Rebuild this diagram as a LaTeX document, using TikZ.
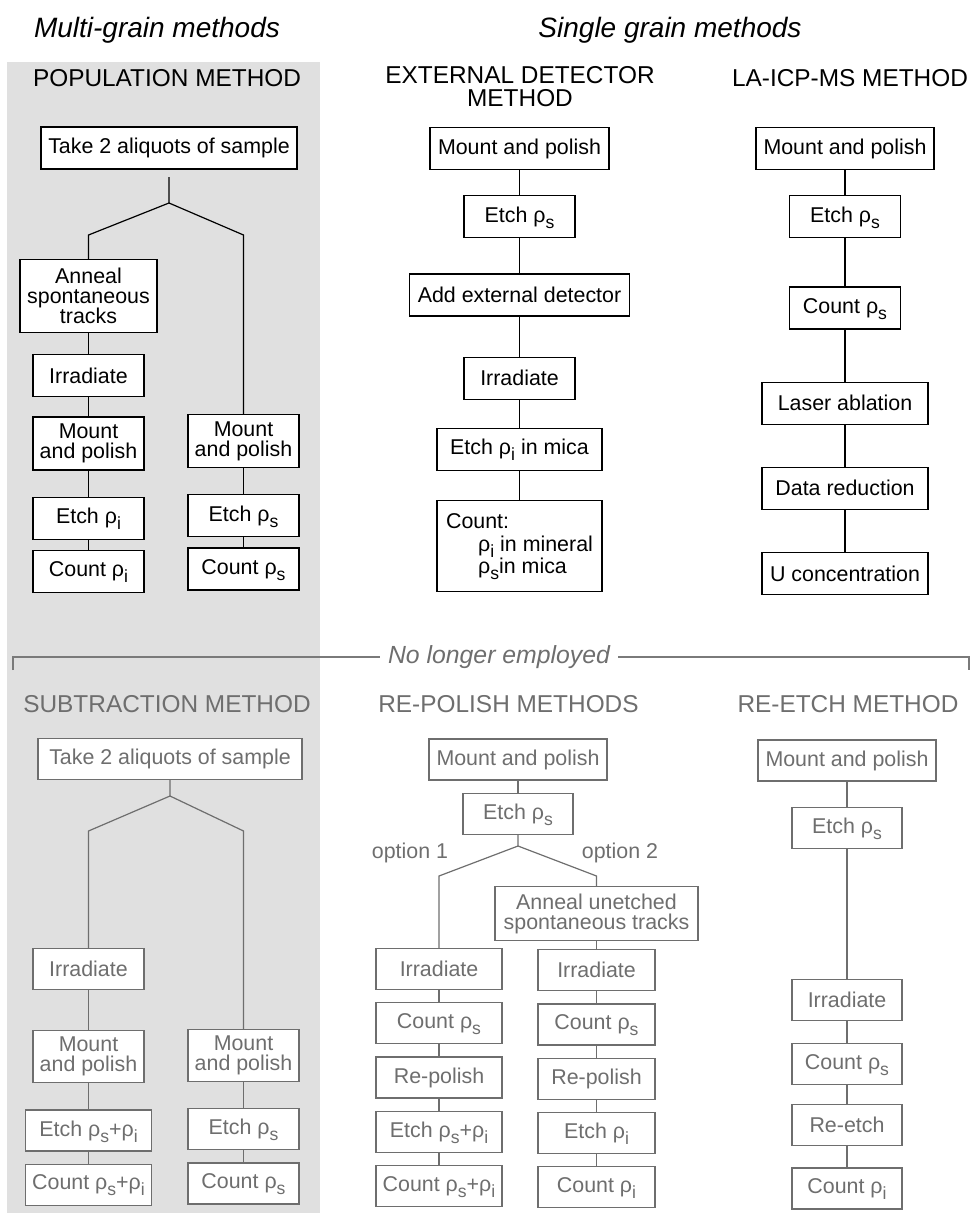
\documentclass[tikz,border=0pt]{standalone}
\usepackage{fontspec}
\setmainfont{Liberation Sans}
\usepackage{tikz}
\usetikzlibrary{positioning}
\definecolor{fondo}{HTML}{E0E0E0}
\definecolor{gris}{HTML}{6E6E6E}
\definecolor{lineagris}{HTML}{7A7A7A}
\newcommand{\rsub}[1]{ρ\raisebox{-3pt}[0pt][0pt]{\fontsize{8.8}{9}\selectfont #1}}

\begin{document}
\begin{tikzpicture}[x=0.5pt,y=-0.5pt,
			proc/.style={draw,line width=0.6pt,fill=white,align=center,font=\fontsize{10.7}{10}\selectfont,minimum height=21pt,inner sep=2pt},
			oldproc/.style={proc,draw=gris,text=gris,minimum height=20.5pt},
			head/.style={font=\fontsize{12.2}{11.5}\selectfont,align=center},
			oldhead/.style={head,text=gris},
			grp/.style={font=\fontsize{14}{14}\selectfont\itshape},
			link/.style={draw,line width=0.6pt},
			oldlink/.style={draw=gris,line width=0.6pt},
			divider/.style={draw=lineagris,line width=0.6pt}
			]
			\useasboundingbox (0,0) rectangle (971,1215);
			\fill[fondo] (7,62) rectangle (320,1213);
			\node[grp] (multi) at (157,30) {Multi-grain methods};
			\node[grp] (single) at (670,30) {Single grain methods};
			\node[head] (popT) at (167,78) {POPULATION METHOD};
			\node[head] (edmT) at (520,87) {EXTERNAL DETECTOR\\METHOD};
			\node[head] (laT) at (850,78) {LA-ICP-MS METHOD};
			\node[proc,minimum width=128pt] (pop0) at (169,148) {Take 2 aliquots of sample};
			\coordinate (popS) at (169,177);
			\coordinate (popF) at (169,203);
			\coordinate (popL) at (88.5,235);
			\coordinate (popR) at (243.5,235);
			\node[proc,minimum width=68.5pt,minimum height=36.5pt] (pop1) [below=12pt of popL] {Anneal\\spontaneous\\tracks};
			\node[proc,minimum width=55.5pt] (pop2) [below=10.5pt of pop1] {Irradiate};
			\node[proc,minimum width=55.5pt,minimum height=26.5pt] (pop3) [below=9.5pt of pop2] {Mount\\and polish};
			\node[proc,minimum width=55.5pt] (pop4) [below=13pt of pop3] {Etch \rsub{i}};
			\node[proc,minimum width=55.5pt] (pop5) [below=5pt of pop4] {Count \rsub{i}};
			\node[proc,minimum width=55.5pt,minimum height=26.5pt] (pop6) [below=89.5pt of popR] {Mount\\and polish};
			\node[proc,minimum width=55.5pt] (pop7) [below=13pt of pop6] {Etch \rsub{s}};
			\node[proc,minimum width=55.5pt] (pop8) [below=5pt of pop7] {Count \rsub{s}};
			\draw[link] (popS) -- (popF) -- (popL) -- (pop1);
			\draw[link] (popF) -- (popR) -- (pop6);
			\draw[link] (pop1) -- (pop2);
			\draw[link] (pop2) -- (pop3);
			\draw[link] (pop3) -- (pop4);
			\draw[link] (pop4) -- (pop5);
			\draw[link] (pop6) -- (pop7);
			\draw[link] (pop7) -- (pop8);
			\node[proc,minimum width=89.5pt] (edm1) at (519.5,148.5) {Mount and polish};
			\node[proc,minimum width=55.5pt] (edm2) [below=12.5pt of edm1] {Etch \rsub{s}};
			\node[proc,minimum width=110pt] (edm3) [below=17.5pt of edm2] {Add external detector};
			\node[proc,minimum width=55.5pt] (edm4) [below=20pt of edm3] {Irradiate};
			\node[proc,minimum width=82.5pt] (edm5) [below=14pt of edm4] {Etch \rsub{i} in mica};
			\node[proc,minimum width=82.5pt,minimum height=45.5pt,align=left,font=\fontsize{10.7}{11.3}\selectfont] (edm6) [below=14.5pt of edm5] {Count:\\\hspace*{1.5em}\rsub{i} in mineral\\\hspace*{1.5em}\rsub{s}in mica};
			\draw[link] (edm1) -- (edm2);
			\draw[link] (edm2) -- (edm3);
			\draw[link] (edm3) -- (edm4);
			\draw[link] (edm4) -- (edm5);
			\draw[link] (edm5) -- (edm6);
			\node[proc,minimum width=89pt] (la1) at (845,148.5) {Mount and polish};
			\node[proc,minimum width=55.5pt] (la2) [below=12.5pt of la1] {Etch \rsub{s}};
			\node[proc,minimum width=55.5pt] (la3) [below=24pt of la2] {Count \rsub{s}};
			\node[proc,minimum width=83pt] (la4) [below=26pt of la3] {Laser ablation};
			\node[proc,minimum width=83pt] (la5) [below=21pt of la4] {Data reduction};
			\node[proc,minimum width=83pt] (la6) [below=21pt of la5] {U concentration};
			\draw[link] (la1) -- (la2);
			\draw[link] (la2) -- (la3);
			\draw[link] (la3) -- (la4);
			\draw[link] (la4) -- (la5);
			\draw[link] (la5) -- (la6);
			\node[font=\fontsize{12.4}{12}\selectfont\itshape,text=gris,inner sep=4pt] (nolonger) at (499,657) {No longer employed};
			\coordinate (divL) at (13,670);
			\coordinate (divR) at (969,670);
			\draw[divider] (divL) |- (nolonger.west);
			\draw[divider] (nolonger.east) -| (divR);
			\node[oldhead] (subT) at (167,704) {SUBTRACTION METHOD};
			\node[oldhead] (rpT) at (508.5,704) {RE-POLISH METHODS};
			\node[oldhead] (reT) at (848,704) {RE-ETCH METHOD};
			\node[oldproc,minimum width=132pt] (sub0) at (170,759) {Take 2 aliquots of sample};
			\coordinate (subF) at (170,796);
			\coordinate (subL) at (88.5,831);
			\coordinate (subR) at (243.5,831);
			\node[oldproc,minimum width=55.5pt] (sub1) [below=58.5pt of subL] {Irradiate};
			\node[oldproc,minimum width=55.5pt,minimum height=26pt] (sub2) [below=20pt of sub1] {Mount\\and polish};
			\node[oldproc,minimum width=63pt] (sub3) [below=13pt of sub2] {Etch \rsub{s}+\rsub{i}};
			\node[oldproc,minimum width=63pt] (sub4) [below=6pt of sub3] {Count \rsub{s}+\rsub{i}};
			\node[oldproc,minimum width=55.5pt,minimum height=26pt] (sub5) [below=99pt of subR] {Mount\\and polish};
			\node[oldproc,minimum width=55.5pt] (sub6) [below=13pt of sub5] {Etch \rsub{s}};
			\node[oldproc,minimum width=55.5pt] (sub7) [below=6pt of sub6] {Count \rsub{s}};
			\draw[oldlink] (sub0) -- (subF) -- (subL) -- (sub1);
			\draw[oldlink] (subF) -- (subR) -- (sub5);
			\draw[oldlink] (sub1) -- (sub2);
			\draw[oldlink] (sub2) -- (sub3);
			\draw[oldlink] (sub3) -- (sub4);
			\draw[oldlink] (sub5) -- (sub6);
			\draw[oldlink] (sub6) -- (sub7);
			\node[oldproc,minimum width=89pt] (rp0) at (518,759.5) {Mount and polish};
			\node[oldproc,minimum width=55pt] (rp1) [below=6pt of rp0] {Etch \rsub{s}};
			\coordinate (rpF) at (518,846);
			\coordinate (rpL) at (439,876);
			\coordinate (rpR) at (596.5,876);
			\node[text=gris,font=\fontsize{10.7}{10}\selectfont] (op1) at (410,853) {option 1};
			\node[text=gris,font=\fontsize{10.7}{10}\selectfont] (op2) at (620,853) {option 2};
			\node[oldproc,minimum width=101.5pt,minimum height=27pt] (rp2) [below=5pt of rpR] {Anneal unetched\\spontaneous tracks};
			\node[oldproc,minimum width=63pt] (rp3) [below=36pt of rpL] {Irradiate};
			\node[oldproc,minimum width=63pt] (rp4) [below=6pt of rp3] {Count \rsub{s}};
			\node[oldproc,minimum width=63pt] (rp5) [below=6pt of rp4] {Re-polish};
			\node[oldproc,minimum width=63pt] (rp6) [below=6pt of rp5] {Etch \rsub{s}+\rsub{i}};
			\node[oldproc,minimum width=63pt] (rp7) [below=6pt of rp6] {Count \rsub{s}+\rsub{i}};
			\node[oldproc,minimum width=58.5pt] (rp8) [below=4pt of rp2] {Irradiate};
			\node[oldproc,minimum width=58.5pt] (rp9) [below=6pt of rp8] {Count \rsub{s}};
			\node[oldproc,minimum width=58.5pt] (rp10) [below=6pt of rp9] {Re-polish};
			\node[oldproc,minimum width=58.5pt] (rp11) [below=6pt of rp10] {Etch \rsub{i}};
			\node[oldproc,minimum width=58.5pt] (rp12) [below=6pt of rp11] {Count \rsub{i}};
			\draw[oldlink] (rp0) -- (rp1);
			\draw[oldlink] (rp1) -- (rpF) -- (rpL) -- (rp3);
			\draw[oldlink] (rpF) -- (rpR) -- (rp2);
			\draw[oldlink] (rp3) -- (rp4);
			\draw[oldlink] (rp4) -- (rp5);
			\draw[oldlink] (rp5) -- (rp6);
			\draw[oldlink] (rp6) -- (rp7);
			\draw[oldlink] (rp2) -- (rp8);
			\draw[oldlink] (rp8) -- (rp9);
			\draw[oldlink] (rp9) -- (rp10);
			\draw[oldlink] (rp10) -- (rp11);
			\draw[oldlink] (rp11) -- (rp12);
			\node[oldproc,minimum width=89pt] (re0) at (847,760.5) {Mount and polish};
			\node[oldproc,minimum width=55pt] (re1) [below=12.5pt of re0] {Etch \rsub{s}};
			\node[oldproc,minimum width=55pt] (re2) [below=65pt of re1] {Irradiate};
			\node[oldproc,minimum width=55pt] (re3) [below=11pt of re2] {Count \rsub{s}};
			\node[oldproc,minimum width=55pt] (re4) [below=9.5pt of re3] {Re-etch};
			\node[oldproc,minimum width=55pt] (re5) [below=10.5pt of re4] {Count \rsub{i}};
			\draw[oldlink] (re0) -- (re1);
			\draw[oldlink] (re1) -- (re2);
			\draw[oldlink] (re2) -- (re3);
			\draw[oldlink] (re3) -- (re4);
			\draw[oldlink] (re4) -- (re5);
		\end{tikzpicture}
\end{document}
